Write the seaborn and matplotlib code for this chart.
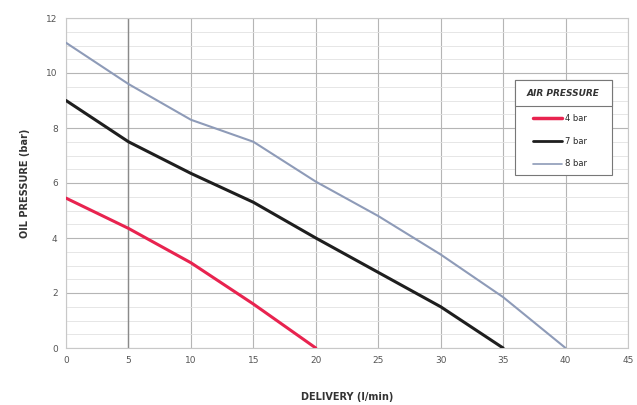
import numpy as np
import pandas as pd
import seaborn as sns
import matplotlib.pyplot as plt
from matplotlib.ticker import MultipleLocator

# curve data
delivery_4 = [0, 5, 10, 15, 20]
oil_4 = [5.45, 4.35, 3.1, 1.6, 0.0]

delivery_7 = [0, 5, 10, 15, 20, 25, 30, 35]
oil_7 = [9.0, 7.5, 6.35, 5.3, 4.0, 2.75, 1.5, 0.0]

delivery_8 = [0, 5, 10, 12.5, 15, 20, 25, 30, 35, 40]
oil_8 = [11.1, 9.6, 8.3, 7.9, 7.5, 6.05, 4.8, 3.4, 1.85, 0.0]

labels = ['4 bar', '7 bar', '8 bar']
colors = ['#e8234f', '#1e1e1e', '#8e9bb8']

df = pd.concat([
    pd.DataFrame({'delivery': delivery_4, 'oil': oil_4, 'air': labels[0]}),
    pd.DataFrame({'delivery': delivery_7, 'oil': oil_7, 'air': labels[1]}),
    pd.DataFrame({'delivery': delivery_8, 'oil': oil_8, 'air': labels[2]}),
])

sns.set_style('white')
fig = plt.figure(figsize=(6.37, 4.05), dpi=100)
ax = fig.add_axes([66/637, 1-348/405, (628-66)/637, (348-18)/405])

# grid
ax.yaxis.set_minor_locator(MultipleLocator(0.5))
ax.xaxis.set_major_locator(MultipleLocator(5))
ax.yaxis.set_major_locator(MultipleLocator(2))
ax.grid(which='major', axis='both', color='#b5b5b5', lw=0.8)
ax.grid(which='minor', axis='y', color='#e2e2e2', lw=0.6)
ax.axvline(5, color='#8a8a8a', lw=1.0, zorder=1)

sns.lineplot(data=df, x='delivery', y='oil', hue='air', palette=colors,
             sort=False, ax=ax, legend=False, zorder=3)
for line, w in zip(ax.lines[-3:], [2.2, 2.2, 1.5]):
    line.set_linewidth(w)

ax.set_xlim(0, 45)
ax.set_ylim(0, 12)
ax.tick_params(axis='both', which='major', labelsize=6.5, labelcolor='#555555', length=0, pad=6)
ax.tick_params(which='minor', length=0)
for s in ax.spines.values():
    s.set_color('#c8c8c8')
    s.set_linewidth(0.8)

ax.set_xlabel('DELIVERY (l/min)', fontsize=7, fontweight='bold', color='#333333', labelpad=19)
ax.set_ylabel('OIL PRESSURE (bar)', fontsize=7, fontweight='bold', color='#333333', labelpad=12)

# legend box with boxed title
box = plt.Rectangle((515/637, 1-175/405), 97/637, 95/405, transform=fig.transFigure,
                    facecolor='white', edgecolor='#777777', lw=0.8, zorder=4)
fig.add_artist(box)
title_box = plt.Rectangle((515/637, 1-106/405), 97/637, 26/405, transform=fig.transFigure,
                          facecolor='white', edgecolor='#777777', lw=0.8, zorder=5)
fig.add_artist(title_box)
fig.text(563.5/637, 1-93/405, 'AIR PRESSURE', ha='center', va='center',
         fontsize=6.5, fontweight='bold', fontstyle='italic', color='#333333', zorder=6)

handles = [plt.Line2D([], [], color=c, lw=w) for c, w in zip(colors, [2.5, 2, 1.2])]
leg = fig.legend(handles, labels, loc='upper left',
                 bbox_to_anchor=(533/637, 1-114/405),
                 fontsize=6, frameon=False, handlelength=3.5, handletextpad=0.3,
                 labelspacing=1.65, borderpad=0, borderaxespad=0)
leg.set_zorder(7)

fig.savefig('out.png', dpi=100)
